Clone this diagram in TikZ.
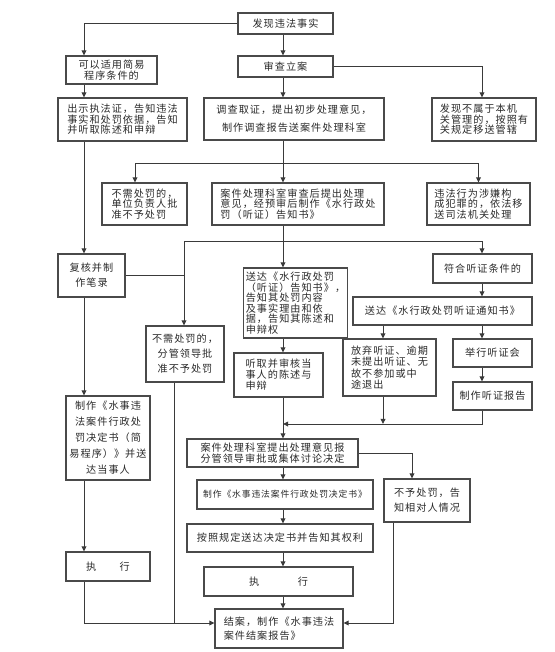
\documentclass[tikz,border=0pt]{standalone}
\usepackage{fontspec}
\usepackage{tikz}
\usetikzlibrary{arrows.meta}
\newfontfamily\cjk[LetterSpace=10]{Noto Sans CJK SC}
\definecolor{boxgray}{HTML}{4A4A4A}
\definecolor{linegray}{HTML}{3A3A3A}
\definecolor{inkdark}{HTML}{2A2A2A}
\tikzset{
  procbox/.style={draw=boxgray,line width=0.9pt,fill=white,align=left,inner sep=2pt,text=inkdark,font=\cjk\fontsize{7.6}{7.9}\selectfont},
  midtext/.style={align=center},
  loose/.style={font=\cjk\fontsize{7.6}{11.2}\selectfont},
  flowline/.style={draw=linegray,line width=0.7pt},
  flowarr/.style={flowline,-{Triangle[length=3.8pt,width=3.6pt]}}
}
% box from its corners in pixels: name, x1, y1, x2, y2, text
\newcommand{\flowbox}[7][]{%
  \node[procbox,#1,minimum width={(#5-#3)*0.75pt},minimum height={(#6-#4)*0.75pt}]
    (#2) at ({(#3+#5)/2},{(#4+#6)/2}) {#7};}
\begin{document}
\begin{tikzpicture}[x=0.75pt,y=-0.75pt]
  \fill[white] (0,0) rectangle (554,652);
  \useasboundingbox (0,0) rectangle (554,652);
  % boxes
  \flowbox[midtext]{find}{238}{13}{333}{34}{发现违法事实}
  \flowbox[midtext]{simple}{66}{56}{157}{84}{可以适用简易\\程序条件的}
  \flowbox[midtext]{register}{238}{56}{333}{77}{审查立案}
  \flowbox{notify}{58}{98}{187}{141}{出示执法证，告知违法\\事实和处罚依据，告知\\并听取陈述和申辩}
  \flowbox[midtext,font=\cjk\fontsize{7.6}{13.3}\selectfont]{investigate}{204}{98}{384}{140}{调查取证，提出初步处理意见，\\制作调查报告送案件处理科室}
  \flowbox{transfer}{432}{98}{536}{141}{发现不属于本机\\关管理的，按照有\\关规定移送管辖}
  \flowbox{nopen1}{102}{183}{187}{225}{不需处罚的，\\单位负责人批\\准不予处罚}
  \flowbox{casedept}{212}{183}{384}{225}{案件处理科室审查后提出处理\\意见，经预审后制作《水行政处\\罚（听证）告知书》}
  \flowbox{crime}{427}{183}{530}{225}{违法行为涉嫌构\\成犯罪的，依法移\\送司法机关处理}
  \flowbox[midtext,loose]{review}{58}{254}{125}{297}{复核并制\\作笔录}
  \flowbox{hearnotice}{244}{268}{347}{338}{送达《水行政处罚\\（听证）告知书》，\\告知其处罚内容\\及事实理由和依\\据，告知其陈述和\\申辩权}
  \flowbox[midtext]{hearcond}{433}{254}{532}{283}{符合听证条件的}
  \flowbox[midtext]{hearsend}{353}{297}{532}{325}{送达《水行政处罚听证通知书》}
  \flowbox[midtext,loose]{nopen2}{146}{326}{224}{382}{不需处罚的，\\分管领导批\\准不予处罚}
  \flowbox[font=\cjk\fontsize{7.6}{8.3}\selectfont]{listen}{234}{353}{323}{397}{听取并审核当\\事人的陈述与\\申辩}
  \flowbox[font=\cjk\fontsize{7.6}{8.6}\selectfont]{waive}{343}{339}{436}{396}{放弃听证、逾期\\未提出听证、无\\故不参加或中\\途退出}
  \flowbox[midtext]{hold}{453}{339}{532}{367}{举行听证会}
  \flowbox[midtext]{hearrep}{453}{382}{532}{410}{制作听证报告}
  \flowbox[midtext,font=\cjk\fontsize{7.6}{12}\selectfont]{simpledec}{66}{396}{150}{480}{制作《水事违\\法案件行政处\\罚决定书（简\\易程序）》并送\\达当事人}
  \flowbox[midtext]{decide}{187}{439}{358}{467}{案件处理科室提出处理意见报\\分管领导审批或集体讨论决定}
  \flowbox[midtext,font=\cjk\fontsize{6.6}{7.9}\selectfont]{makedec}{197}{480}{373}{509}{制作《水事违法案件行政处罚决定书》}
  \flowbox[loose]{noact}{384}{479}{470}{522}{不予处罚，告\\知相对人情况}
  \flowbox[midtext]{exec1}{66}{552}{150}{581}{执\hspace{2.3em}行}
  \flowbox[midtext]{deliver}{187}{524}{373}{552}{按照规定送达决定书并告知其权利}
  \flowbox[midtext]{exec2}{204}{567}{353}{596}{执\hspace{3.8em}行}
  \flowbox[font=\cjk\fontsize{7.6}{10.5}\selectfont]{close}{215}{609}{343}{648}{结案，制作《水事违法\\案件结案报告》}
  % line positions
  \coordinate (lsp) at (84,0);
  \coordinate (msp) at (283,0);
  \coordinate (jA) at (135,163);
  \coordinate (jB) at (184,241);
  \coordinate (jC) at (383,0);
  \coordinate (jD) at (482,0);
  \coordinate (jE) at (412,0);
  \coordinate (jF) at (393,0);
  \coordinate (jG) at (174,0);
  \coordinate (mrg) at (0,424);
  \coordinate (bot) at (0,623);
  % simple procedure column
  \draw[flowarr] (find.west) -| (simple.north -| lsp);
  \draw[flowarr] (simple.south -| lsp) -- (notify.north -| lsp);
  \draw[flowarr] (notify.south -| lsp) -- (review.north -| lsp);
  \draw[flowarr] (review.south -| lsp) -- (simpledec.north -| lsp);
  \draw[flowarr] (simpledec.south -| lsp) -- (exec1.north -| lsp);
  \draw[flowarr] (exec1.south -| lsp) |- (close.west |- bot);
  % general procedure
  \draw[flowarr] (find.south -| msp) -- (register.north -| msp);
  \draw[flowarr] (register.south -| msp) -- (investigate.north -| msp);
  \draw[flowarr] (register.east) -| (transfer.north -| jD);
  \draw[flowarr] (investigate.south -| msp) -- (casedept.north -| msp);
  \draw[flowarr] (msp |- jA) -| (nopen1.north -| jA);
  \draw[flowarr] (msp |- jA) -| (crime.north);
  \draw[flowarr] (casedept.south -| msp) -- (hearnotice.north -| msp);
  \draw[flowarr] (msp |- jB) -| (nopen2.north -| jB);
  \draw[flowarr] (msp |- jB) -| (hearcond.north -| jD);
  \draw[flowline] (review.east) -- (review.east -| jB);
  % hearing branch
  \draw[flowarr] (hearnotice.south -| msp) -- (listen.north -| msp);
  \draw[flowarr] (hearcond.south -| jD) -- (hearsend.north -| jD);
  \draw[flowarr] (hearsend.south -| jC) -- (waive.north -| jC);
  \draw[flowarr] (hearsend.south -| jD) -- (hold.north -| jD);
  \draw[flowarr] (hold.south -| jD) -- (hearrep.north -| jD);
  \draw[flowarr] (hearrep.south -| jD) |- (msp |- mrg);
  \draw[flowarr] (waive.south -| jC) -- (jC |- mrg);
  % decision
  \draw[flowarr] (listen.south -| msp) -- (decide.north -| msp);
  \draw[flowarr] (decide.east) -| (noact.north -| jE);
  \draw[flowarr] (decide.south -| msp) -- (makedec.north -| msp);
  \draw[flowarr] (makedec.south -| msp) -- (deliver.north -| msp);
  \draw[flowarr] (deliver.south -| msp) -- (exec2.north -| msp);
  \draw[flowarr] (exec2.south -| msp) -- (close.north -| msp);
  \draw[flowarr] (noact.south -| jF) |- (close.east |- bot);
  \draw[flowline] (nopen2.south -| jG) -- (jG |- bot);
\end{tikzpicture}
\end{document}
